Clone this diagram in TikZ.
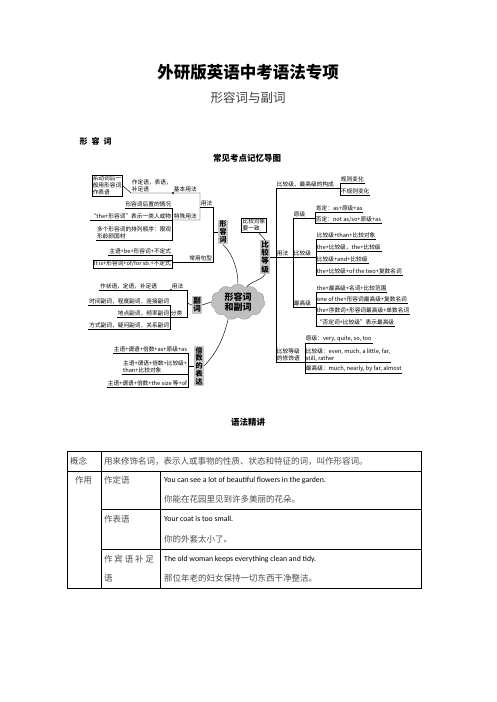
\documentclass[tikz,border=0pt]{standalone}
\usepackage{fontspec}
\setmainfont{Noto Sans CJK SC}
\newfontfamily\enfont{Carlito}
\usetikzlibrary{positioning, shapes.symbols}
\newcommand\mapfont{\fontsize{5.7}{6.8}\selectfont}
\newcommand\tabfont{\fontsize{8.5}{10}\selectfont}

\begin{document}
\begin{tikzpicture}[x=1pt, y=-1pt,
    leaf/.style={font=\mapfont, inner sep=0.7pt, align=left},
    note/.style={draw, line width=0.4pt, font=\mapfont, inner sep=1pt, align=left},
    vlab/.style={fill=black!22, font=\bfseries\fontsize{7}{7.8}\selectfont, inner sep=1.2pt, align=center},
    ln/.style={line width=0.45pt},
    dotmark/.style={circle, fill, inner sep=0pt, minimum size=2.4pt},
    cell/.style={font=\tabfont, text=black!70, anchor=west, inner sep=0pt},
    eng/.style={font=\enfont\fontsize{7.8}{9}\selectfont, anchor=west, inner sep=0pt},
  ]
\useasboundingbox (0,0) rectangle (496,702);

% headings
\node[font=\bfseries\fontsize{16.5}{18}\selectfont] (title) at (248,72) {外研版英语中考语法专项};
\node[font=\fontsize{12.5}{14}\selectfont, text=black!75] (subtitle) at (248,98) {形容词与副词};
\node[font=\bfseries\fontsize{8}{9}\selectfont, anchor=west] (sec) at (76,141) {形\hspace{4pt}容\hspace{4pt}词};
\node[font=\bfseries\fontsize{8.5}{10}\selectfont] (maptitle) at (247,158) {常见考点记忆导图};

% centre
\node[cloud, cloud puffs=11, cloud puff arc=110, aspect=1.5, fill=black!25, draw=black!40,
      minimum width=54pt, minimum height=36pt, inner sep=0pt,
      font=\bfseries\fontsize{9}{10.5}\selectfont, align=center] (core) at (238,302) {形容词\\和副词};

% adjective
\node[vlab] (adj) at (223,232) {形\\容\\词};
\node[note] (xd) at (107,185.5) {系动词后一\\般用形容词\\作表语};
\node[leaf, anchor=south west] (zd) at (131,193) {作定语，表语，\\补足语};
\node[leaf, anchor=south west] (jb) at (173,193) {基本用法};
\node[dotmark] (d1) at (jb.south west) {};
\node[leaf, anchor=south west] (ts) at (173,220) {特殊用法};
\node[leaf, anchor=south east] (hz) at (172,208) {形容词后置的情况};
\node[leaf, anchor=south east] (tl) at (172,220) {“the+形容词”表示一类人或物};
\node[leaf, anchor=south east] (pl) at (172,240) {多个形容词的排列顺序：限观\\形龄颜国材};
\node[leaf, anchor=south west] (yf1) at (200,207) {用法};
\node[leaf, anchor=south east] (jx) at (213,262) {常用句型};
\node[leaf, anchor=south east] (sb) at (172,255) {主语+be+形容词+不定式};
\node[note, anchor=south east] (it) at (172,268) {It is+形容词+of/for sb.+不定式};

\draw[ln] (xd.east) -- (zd.south west) -- (jb.south west -| yf1.south west)
          -- (ts.south west -| yf1.south west) -- (ts.south west);
\draw[ln] (yf1.south west) -- (yf1.south east) -- (yf1.south east |- jx.south east)
          -- (sb.south east |- jx.south east);
\draw[ln] (adj.west) -- (adj.west -| yf1.south east);
\draw[ln] (hz.south west) -- (hz.south east) -- (pl.south east) -- (pl.south west);
\draw[ln] (tl.south west) -- (ts.south west);
\draw[ln] (sb.south west) -- (sb.south east) -- (it.south east);

% adverb
\node[vlab, font=\bfseries\fontsize{7.5}{8.4}\selectfont] (adv) at (197,305) {副\\词};
\coordinate (kv) at (187,303);
\node[leaf, anchor=south east] (zz) at (158,290) {作状语，定语，补足语};
\node[dotmark] (d2) at (171,290) {};
\node[leaf, anchor=south west] (yf2) at (171,290) {用法};
\node[leaf, anchor=south west] (fl) at (170,317) {分类};
\node[leaf, anchor=south east] (sj) at (170,305) {时间副词，程度副词，连接副词};
\node[leaf, anchor=south east] (dd) at (170,317) {地点副词，频率副词};
\node[leaf, anchor=south east] (fs) at (170,329) {方式副词，疑问副词，关系副词};

\draw[ln] (zz.south west) -- (kv |- yf2.south) -- (kv |- fl.south) -- (fl.south west);
\draw[ln] (kv) -- (adv.west);
\draw[ln] (sj.south west) -- (sj.south east) -- (fs.south east) -- (fs.south west);
\draw[ln] (dd.south west) -- (dd.south east);

% multiples
\node[vlab] (bs) at (199,366) {倍\\数\\的\\表\\达};
\coordinate (kb) at (188,366);
\node[leaf, anchor=south east] (bs1) at (188,353) {主语+谓语+倍数+as+原级+as};
\node[leaf, anchor=south east] (bs2) at (188,374) {主语+谓语+倍数+比较级+\\than+比较对象};
\node[leaf, anchor=south east] (bs3) at (188,387) {主语+谓语+倍数+the size 等+of};

\draw[ln] (bs1.south west) -- (bs1.south east) -- (bs3.south east) -- (bs3.south west);
\draw[ln] (bs2.south west) -- (bs2.south east);
\draw[ln] (kb) -- (bs.west);

% comparison
\node[vlab, font=\bfseries\fontsize{7.5}{8.2}\selectfont] (cmp) at (265,257) {比\\较\\等\\级};
\node[note] (yz) at (254,225) {比较对象\\要一致};
\coordinate (kc) at (276,257);
\node[leaf, anchor=south west] (gc) at (276,188) {比较级、最高级的构成};
\node[leaf, anchor=south west] (gz) at (340,183) {规则变化};
\node[leaf, anchor=south west] (bg) at (340,195) {不规则变化};
\node[leaf, anchor=south west] (yf3) at (276,257) {用法};
\node[leaf, anchor=south west] (yj) at (293,218) {原级};
\node[leaf, anchor=south west] (kd) at (315,212) {肯定：as+原级+as};
\node[leaf, anchor=south west] (fd) at (315,223) {否定：not as/so+原级+as};
\node[leaf, anchor=south west] (bj) at (293,257) {比较级};
\node[leaf, anchor=south west] (bj1) at (316,239) {比较级+than+比较对象};
\node[leaf, anchor=south west] (bj2) at (316,251) {the+比较级，the+比较级};
\node[leaf, anchor=south west] (bj3) at (316,263) {比较级+and+比较级};
\node[leaf, anchor=south west] (bj4) at (316,275) {the+比较级+of the two+复数名词};
\node[leaf, anchor=south west] (zg) at (293,307) {最高级};
\node[leaf, anchor=south west] (zg1) at (316,292) {the+最高级+名词+比较范围};
\node[leaf, anchor=south west] (zg2) at (316,303) {one of the+形容词最高级+复数名词};
\node[leaf, anchor=south west] (zg3) at (316,314) {the+序数词+形容词最高级+单数名词};
\node[leaf, anchor=south west] (zg4) at (316,326) {“否定词+比较级”表示最高级};
\node[leaf, anchor=south west] (xs) at (276,362) {比较等级\\的修饰语};
\node[leaf, anchor=south west] (xs1) at (305,343) {原级：very, quite, so, too};
\node[leaf, anchor=south west] (xs2) at (305,362) {比较级：even, much, a little, far,\\still, rather};
\node[leaf, anchor=south west] (xs3) at (305,373) {最高级：much, nearly, by far, almost};

\draw[ln] (cmp.east |- kc) -- (kc);
\draw[ln] (yz.-60) -- (cmp.north);
\draw[ln] (gc.south west) -- (xs.south west);
\draw[ln] (gc.south west) -- (gc.south west -| gz.south west);
\draw[ln] (gz.south east) -- (gz.south west) -- (bg.south west) -- (bg.south east);
\draw[ln] (yf3.south west) -- (yf3.south west -| yj.south west);
\draw[ln] (yj.south west) -- (zg.south west);
\draw[ln] (yj.south west) -- (yj.south west -| kd.south west);
\draw[ln] (kd.south east) -- (kd.south west) -- (fd.south west) -- (fd.south east);
\draw[ln] (bj.south west) -- (bj.south west -| bj1.south west);
\draw[ln] (bj1.south east) -- (bj1.south west) -- (bj4.south west) -- (bj4.south east);
\draw[ln] (bj2.south west) -- (bj2.south east);
\draw[ln] (bj3.south west) -- (bj3.south east);
\draw[ln] (zg.south west) -- (zg.south west -| zg1.south west);
\draw[ln] (zg1.south east) -- (zg1.south west) -- (zg4.south west) -- (zg4.south east);
\draw[ln] (zg2.south west) -- (zg2.south east);
\draw[ln] (zg3.south west) -- (zg3.south east);
\draw[ln] (xs.south west) -- (xs.south west -| xs1.south west);
\draw[ln] (xs1.south east) -- (xs1.south west) -- (xs3.south west) -- (xs3.south east);
\draw[ln] (xs2.south west) -- (xs2.south east);

% links to centre
\draw[ln] (adj.south) .. controls (234,255) and (238,272) .. (core.north);
\draw[ln] (cmp.south) .. controls (262,280) and (250,282) .. (core.60);
\draw[ln] (adv.east) -- (core.west);
\draw[ln] (bs.east) .. controls (218,352) and (224,336) .. (core.240);

% table
\node[font=\bfseries\fontsize{8.5}{10}\selectfont] (tabtitle) at (248,422) {语法精讲};
\draw[line width=0.9pt] (67,451) rectangle (421,588);
\draw[line width=0.9pt] (67,471) -- (421,471);
\draw[line width=0.9pt] (101,451) -- (101,588);
\draw[line width=0.9pt] (160,471) -- (160,588);
\draw[line width=0.9pt] (101,509) -- (421,509);
\draw[line width=0.9pt] (101,549) -- (421,549);

\node[cell] (gn) at (70,461) {概念};
\node[cell] (gnt) at (104,461) {用来修饰名词，表示人或事物的性质、状态和特征的词，叫作形容词。};
\node[cell] (zy) at (75,480) {作用};
\node[cell] (c1) at (104,480) {作定语};
\node[eng] (e1) at (164,480) {You can see a lot of beautiful flowers in the garden.};
\node[cell] (z1) at (164,499) {你能在花园里见到许多美丽的花朵。};
\node[cell] (c2) at (104,519) {作表语};
\node[eng] (e2) at (164,519) {Your coat is too small.};
\node[cell] (z2) at (164,539) {你的外套太小了。};
\node[cell] (c3) at (104,559) {作\hspace{1.8pt}宾\hspace{1.8pt}语\hspace{1.8pt}补\hspace{1.8pt}足};
\node[cell] (c3b) at (104,578) {语};
\node[eng] (e3) at (164,559) {The old woman keeps everything clean and tidy.};
\node[cell] (z3) at (164,578) {那位年老的妇女保持一切东西干净整洁。};
\end{tikzpicture}
\end{document}
